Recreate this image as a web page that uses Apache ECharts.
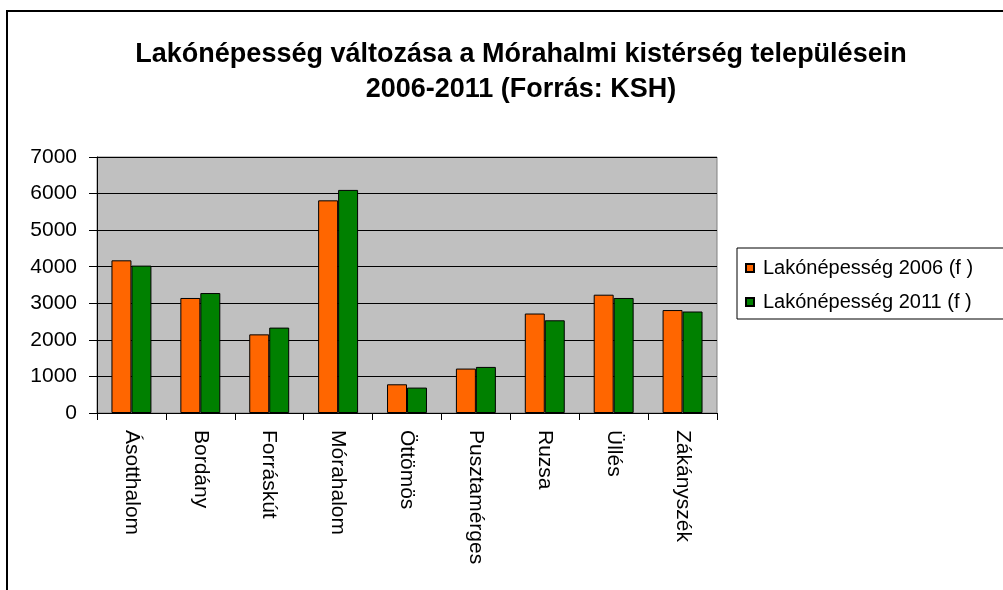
<!DOCTYPE html>
<html>
<head>
<meta charset="utf-8">
<script src="https://cdn.jsdelivr.net/npm/echarts@6/dist/echarts.min.js"></script>
<style>
  html, body { margin: 0; padding: 0; background: #fff; }
  #chart { width: 1003px; height: 590px; }
</style>
</head>
<body>
<div id="chart"></div>
<script>
var towns = ['Ásotthalom', 'Bordány', 'Forráskút', 'Mórahalom', 'Öttömös', 'Pusztamérges', 'Ruzsa', 'Üllés', 'Zákányszék']
var pop2006 = [4175, 3145, 2150, 5815, 785, 1215, 2720, 3235, 2815]
var pop2011 = [4030, 3280, 2335, 6100, 695, 1260, 2535, 3145, 2775]
var yTicks = { min: 0, max: 7000, step: 1000 }

var font = 'Liberation Sans, Arial, sans-serif'
var chart = echarts.init(document.getElementById('chart'))
var option = {
  animation: false,
  backgroundColor: '#fff',
  textStyle: { fontFamily: font, color: '#000' },
  title: {
    text: 'Lakónépesség változása a Mórahalmi kistérség településein\n2006-2011 (Forrás: KSH)',
    left: 516,
    top: 32,
    textAlign: 'center',
    textStyle: { fontFamily: font, fontSize: 27, fontWeight: 'bold', color: '#000', lineHeight: 35 }
  },
  graphic: [{
    type: 'rect',
    shape: { x: 7, y: 11, width: 1010, height: 600 },
    style: { fill: 'none', stroke: '#000', lineWidth: 2 },
    silent: true
  }],
  legend: {
    orient: 'vertical',
    left: 737,
    top: 248,
    padding: [10, 40, 7, 8],
    itemGap: 14,
    itemWidth: 8,
    itemHeight: 8,
    icon: 'rect',
    borderColor: '#000',
    borderWidth: 1,
    backgroundColor: '#fff',
    textStyle: { fontFamily: font, fontSize: 20, color: '#000', padding: [0, 0, 0, 4] }
  },
  grid: {
    left: 97, right: 286, top: 157, bottom: 177,
    show: true,
    backgroundColor: '#c0c0c0',
    borderColor: '#808080',
    borderWidth: 1
  },
  xAxis: {
    type: 'category',
    data: towns,
    axisLine: { lineStyle: { color: '#000', width: 1 } },
    axisTick: { show: true, length: 7, alignWithLabel: false, lineStyle: { color: '#000' } },
    axisLabel: { rotate: -90, margin: 17, fontSize: 21, color: '#000', fontFamily: font }
  },
  yAxis: {
    type: 'value',
    min: yTicks.min,
    max: yTicks.max,
    interval: yTicks.step,
    axisLine: { show: true, lineStyle: { color: '#000', width: 1 } },
    axisTick: { show: true, length: 8, lineStyle: { color: '#000' } },
    axisLabel: {
      margin: 20, fontSize: 21, color: '#000', fontFamily: font,
      formatter: function (v) { return String(v) }
    },
    splitLine: { show: true, lineStyle: { color: '#000', width: 1 } }
  },
  series: [
    {
      name: 'Lakónépesség 2006 (f )',
      type: 'bar',
      data: pop2006,
      barGap: '0%',
      barCategoryGap: '42%',
      itemStyle: { color: '#ff6600', borderColor: '#000', borderWidth: 1 }
    },
    {
      name: 'Lakónépesség 2011 (f )',
      type: 'bar',
      data: pop2011,
      barGap: '0%',
      barCategoryGap: '42%',
      itemStyle: { color: '#008000', borderColor: '#000', borderWidth: 1 }
    }
  ]
}
chart.setOption(option)
</script>
</body>
</html>
